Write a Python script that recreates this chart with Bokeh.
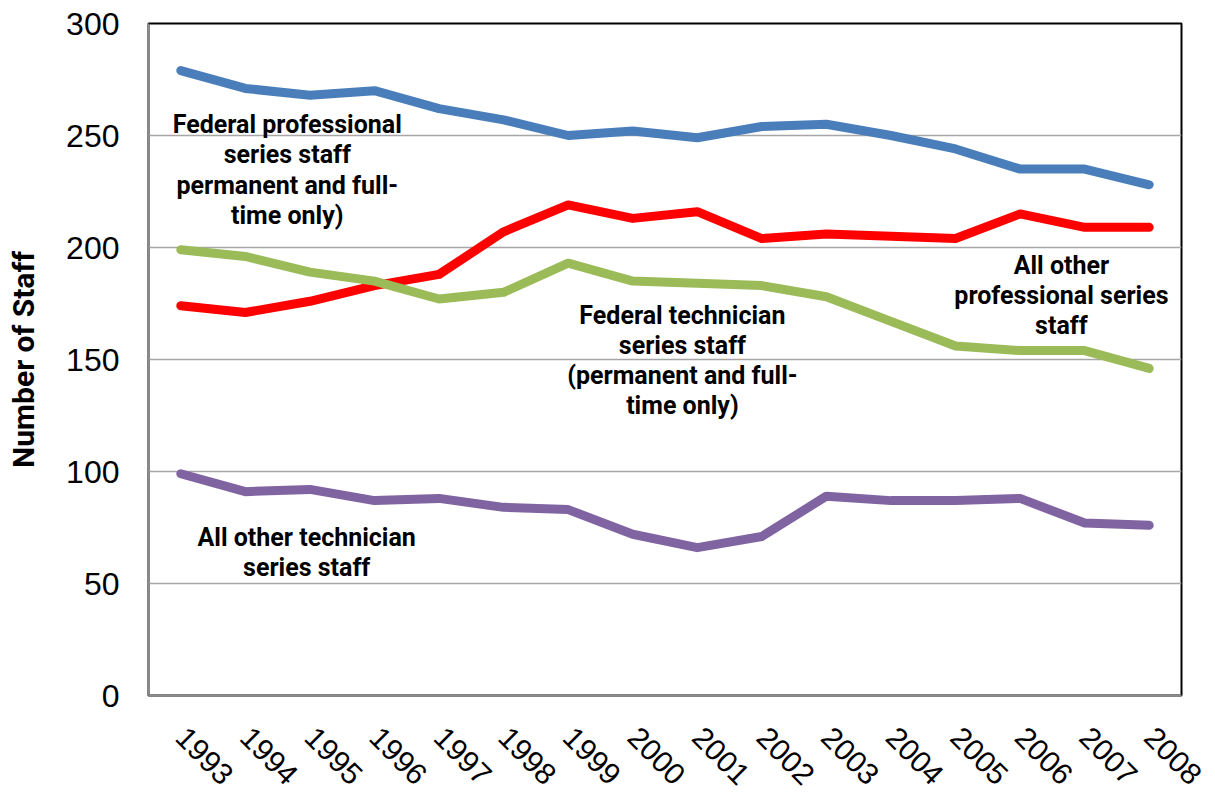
import math
from bokeh.plotting import figure
from bokeh.models import FixedTicker, ColumnDataSource
from bokeh.core.properties import value
from bokeh.embed import file_html
from bokeh.resources import INLINE

years = ["1993", "1994", "1995", "1996", "1997", "1998", "1999", "2000",
         "2001", "2002", "2003", "2004", "2005", "2006", "2007", "2008"]
fed_professional = [279, 271, 268, 270, 262, 257, 250, 252, 249, 254, 255, 250, 244, 235, 235, 228]
other_professional = [174, 171, 176, 183, 188, 207, 219, 213, 216, 204, 206, 205, 204, 215, 209, 209]
fed_technician = [199, 196, 189, 185, 177, 180, 193, 185, 184, 183, 178, 167, 156, 154, 154, 146]
other_technician = [99, 91, 92, 87, 88, 84, 83, 72, 66, 71, 89, 87, 87, 88, 77, 76]

y_ticks = [0, 50, 100, 150, 200, 250, 300]

series = [
    (fed_professional, "#4A7EBB"),
    (other_professional, "#FF0000"),
    (fed_technician, "#9BBB59"),
    (other_technician, "#8064A2"),
]

notes_text = [
    "Federal professional\nseries staff\npermanent and full-\ntime only)",
    "Federal technician\nseries staff\n(permanent and full-\ntime only)",
    "All other\nprofessional series\nstaff",
    "All other technician\nseries staff",
]
notes_x = [1.65, 7.77, 13.64, 1.95]
notes_y = [234.6, 149.6, 178.6, 63.8]

xs = list(range(len(years)))

p = figure(width=1207, height=796, output_backend="svg", toolbar_location=None,
           x_range=(-0.5, len(years) - 0.5), y_range=(0, 300),
           min_border_left=148, min_border_right=26, min_border_top=23,
           min_border_bottom=60)
p.background_fill_color = "white"
p.border_fill_color = "white"
p.outline_line_color = "black"
p.outline_line_width = 2

# grid
p.xgrid.grid_line_color = None
p.ygrid.grid_line_color = "#A6A6A6"
p.ygrid.grid_line_width = 1.5
p.yaxis.ticker = FixedTicker(ticks=y_ticks)
p.xaxis.ticker = FixedTicker(ticks=xs)
p.xaxis.major_label_overrides = {i: y for i, y in enumerate(years)}

for ax in (p.xaxis, p.yaxis):
    ax.axis_line_color = "#8C8C8C"
    ax.axis_line_width = 2
    ax.major_tick_line_color = None
    ax.minor_tick_line_color = None
    ax.major_label_text_font = "Liberation Sans"
    ax.major_label_text_color = "black"

p.yaxis.major_label_text_font_size = "32px"
p.xaxis.major_label_text_font_size = "30px"
p.yaxis.major_label_standoff = 23
p.xaxis.major_label_orientation = -math.pi / 4
p.xaxis.major_label_standoff = 31

p.yaxis.axis_label = "Number of Staff"
p.yaxis.axis_label_text_font = "Roboto"
p.yaxis.axis_label_text_font_style = "bold"
p.yaxis.axis_label_text_font_size = "30px"
p.yaxis.axis_label_text_color = "black"
p.yaxis.axis_label_standoff = 22

for vals, col in series:
    p.line(xs, vals, line_color=col, line_width=9, line_join="round", line_cap="round")

src = ColumnDataSource(dict(x=notes_x, y=notes_y, t=notes_text))
p.text("x", "y", text="t", source=src, text_font=value("Roboto"),
       text_font_style="bold", text_font_size="25px", text_align="center",
       text_baseline="middle", text_line_height=1.04, text_color="black")

open("out.html", "w").write(file_html(p, INLINE))
